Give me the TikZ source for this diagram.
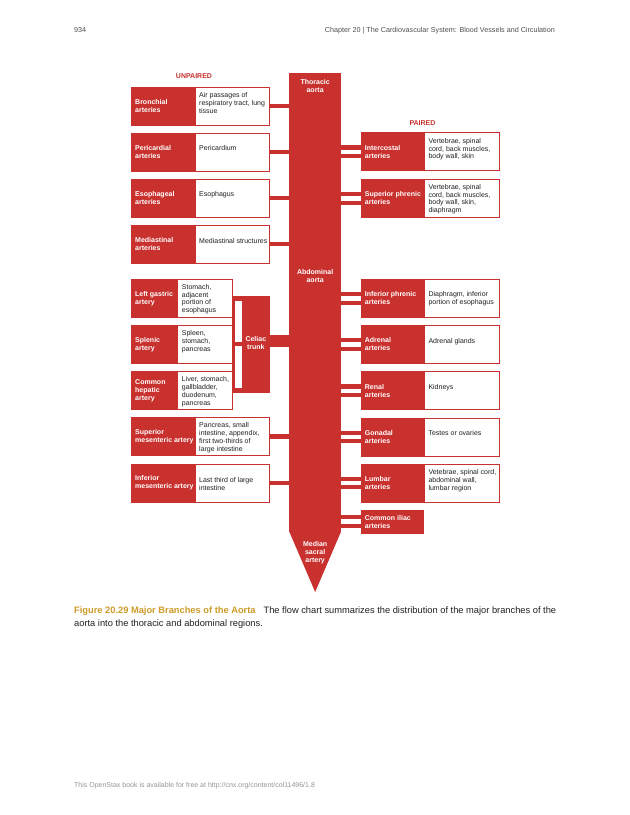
\documentclass[tikz,border=0pt]{standalone}
\usepackage{fontspec}
\setmainfont{Liberation Sans}
\definecolor{ared}{RGB}{200,49,46}
\definecolor{txt}{RGB}{35,31,32}
\definecolor{gold}{RGB}{205,155,40}
\definecolor{hdr}{RGB}{80,80,80}
\definecolor{ftr}{RGB}{150,150,150}
\begin{document}
\begin{tikzpicture}[x=1pt,y=-1pt,
  redpart/.style={fill=ared, draw=ared, line width=0.8pt, inner sep=0pt, outer sep=0pt, anchor=north west, minimum height=38pt},
  descpart/.style={fill=white, draw=ared, line width=0.8pt, inner sep=0pt, outer sep=0pt, anchor=north west, minimum height=38pt},
  lbl/.style={font=\fontsize{7}{7.8}\selectfont\bfseries, text=white, align=left, inner sep=0pt, anchor=west},
  dsc/.style={font=\fontsize{7}{7.8}\selectfont, text=txt, align=left, inner sep=0pt, anchor=north west},
  ctr/.style={font=\fontsize{7}{7.8}\selectfont\bfseries, text=white, align=center, inner sep=0pt, anchor=north},
  single/.style={draw=ared, line width=4.8pt},
  pair/.style={draw=ared, line width=4.2pt, double=white, double distance=4.4pt},
  trunkfill/.style={fill=ared, inner sep=0pt, outer sep=0pt, anchor=north west},
]
\useasboundingbox (0,0) rectangle (630,815);
\fill[white] (0,0) rectangle (630,815);

% header and footer
\node[anchor=base west, inner sep=0pt, font=\fontsize{7.2}{8}\selectfont, text=hdr] (pagenum) at (74,32.3) {934};
\node[anchor=base east, inner sep=0pt, font=\fontsize{7.2}{8}\selectfont, text=hdr] (chapter) at (555,32.3) {Chapter 20 | The Cardiovascular System: Blood Vessels and Circulation};
\node[anchor=base west, inner sep=0pt, font=\fontsize{7}{8}\selectfont, text=ftr] (footer) at (74,787.8) {This OpenStax book is available for free at http://cnx.org/content/col11496/1.8};

% aorta
\node[trunkfill, minimum width=51.7pt, minimum height=458.7pt] (aorta) at (289.3,73) {};
\coordinate (tip) at (315.15,592);
\fill[ared] (aorta.south west) -- (aorta.south east) -- (tip) -- cycle;
\node[ctr] (thor) at (315.15,79.6) {Thoracic\\aorta};
\node[ctr] (abdo) at (315.15,269) {Abdominal\\aorta};
\node[ctr] (sacr) at (315.15,541.3) {Median\\sacral\\artery};

% headings
\node[inner sep=0pt, font=\fontsize{7}{8}\selectfont\bfseries, text=ared] (unp) at (194,76) {UNPAIRED};
\node[inner sep=0pt, font=\fontsize{7}{8}\selectfont\bfseries, text=ared] (par) at (422.5,123) {PAIRED};

% ---------- left, unpaired ----------
\node[redpart, minimum width=63.3pt] (bronR) at (131.7,87) {};
\node[descpart, minimum width=74.3pt] (bronD) at (195,87) {};
\node[lbl] (bronL) at (135,106) {Bronchial\\arteries};
\node[dsc] (bronT) at (199,92.3) {Air passages of\\respiratory tract, lung\\tissue};

\node[redpart, minimum width=63.3pt] (periR) at (131.7,133) {};
\node[descpart, minimum width=74.3pt] (periD) at (195,133) {};
\node[lbl] (periL) at (135,152) {Pericardial\\arteries};
\node[dsc] (periT) at (199,145.6) {Pericardium};

\node[redpart, minimum width=63.3pt] (esopR) at (131.7,179) {};
\node[descpart, minimum width=74.3pt] (esopD) at (195,179) {};
\node[lbl] (esopL) at (135,198) {Esophageal\\arteries};
\node[dsc] (esopT) at (199,191.6) {Esophagus};

\node[redpart, minimum width=63.3pt] (mediR) at (131.7,225) {};
\node[descpart, minimum width=74.3pt] (mediD) at (195,225) {};
\node[lbl] (mediL) at (135,244) {Mediastinal\\arteries};
\node[dsc] (mediT) at (199,238) {Mediastinal structures};

\node[redpart, minimum width=63.3pt] (supmR) at (131.7,417.5) {};
\node[descpart, minimum width=74.3pt] (supmD) at (195,417.5) {};
\node[lbl] (supmL) at (135,436.5) {Superior\\mesenteric artery};
\node[dsc] (supmT) at (199,422.6) {Pancreas, small\\intestine, appendix,\\first two-thirds of\\large intestine};

\node[redpart, minimum width=63.3pt] (infmR) at (131.7,464) {};
\node[descpart, minimum width=74.3pt] (infmD) at (195,464) {};
\node[lbl] (infmL) at (135,483) {Inferior\\mesenteric artery};
\node[dsc] (infmT) at (199,477) {Last third of large\\intestine};

% ---------- celiac group ----------
\node[redpart, minimum width=46pt] (lgR) at (131.7,279.3) {};
\node[descpart, minimum width=54.6pt] (lgD) at (177.7,279.3) {};
\node[lbl] (lgL) at (135,298.3) {Left gastric\\artery};
\node[dsc] (lgT) at (181.7,284) {Stomach,\\adjacent\\portion of\\esophagus};

\node[redpart, minimum width=46pt] (splR) at (131.7,325.3) {};
\node[descpart, minimum width=54.6pt] (splD) at (177.7,325.3) {};
\node[lbl] (splL) at (135,344.3) {Splenic\\artery};
\node[dsc] (splT) at (181.7,330.6) {Spleen,\\stomach,\\pancreas};

\node[redpart, minimum width=46pt] (chR) at (131.7,371.7) {};
\node[descpart, minimum width=54.6pt] (chD) at (177.7,371.7) {};
\node[lbl] (chL) at (135,390.7) {Common\\hepatic\\artery};
\node[dsc] (chT) at (181.7,376.6) {Liver, stomach,\\gallbladder,\\duodenum,\\pancreas};

\node[trunkfill, minimum width=28.3pt, minimum height=97.4pt] (celiac) at (241.7,295.5) {};
\node[ctr] (celT) at (255.85,336.6) {Celiac\\trunk};

% ---------- right, paired ----------
\node[redpart, minimum width=63pt] (interR) at (361,132.7) {};
\node[descpart, minimum width=75pt] (interD) at (424,132.7) {};
\node[lbl] (interL) at (364.7,151.7) {Intercostal\\arteries};
\node[dsc] (interT) at (428.3,138) {Vertebrae, spinal\\cord, back muscles,\\body wall, skin};

\node[redpart, minimum width=63pt] (suphR) at (361,179.3) {};
\node[descpart, minimum width=75pt] (suphD) at (424,179.3) {};
\node[lbl] (suphL) at (364.7,198.3) {Superior phrenic\\arteries};
\node[dsc] (suphT) at (428.3,184) {Vertebrae, spinal\\cord, back muscles,\\body wall, skin,\\diaphragm};

\node[redpart, minimum width=63pt] (infphR) at (361,279.3) {};
\node[descpart, minimum width=75pt] (infphD) at (424,279.3) {};
\node[lbl] (infphL) at (364.7,298.3) {Inferior phrenic\\arteries};
\node[dsc] (infphT) at (428.3,291.6) {Diaphragm, inferior\\portion of esophagus};

\node[redpart, minimum width=63pt] (adrR) at (361,325.3) {};
\node[descpart, minimum width=75pt] (adrD) at (424,325.3) {};
\node[lbl] (adrL) at (364.7,344.3) {Adrenal\\arteries};
\node[dsc] (adrT) at (428.3,338) {Adrenal glands};

\node[redpart, minimum width=63pt] (renR) at (361,371.7) {};
\node[descpart, minimum width=75pt] (renD) at (424,371.7) {};
\node[lbl] (renL) at (364.7,390.7) {Renal\\arteries};
\node[dsc] (renT) at (428.3,384.6) {Kidneys};

\node[redpart, minimum width=63pt] (gonR) at (361,418) {};
\node[descpart, minimum width=75pt] (gonD) at (424,418) {};
\node[lbl] (gonL) at (364.7,437) {Gonadal\\arteries};
\node[dsc] (gonT) at (428.3,430.6) {Testes or ovaries};

\node[redpart, minimum width=63pt] (lumR) at (361,464) {};
\node[descpart, minimum width=75pt] (lumD) at (424,464) {};
\node[lbl] (lumL) at (364.7,483) {Lumbar\\arteries};
\node[dsc] (lumT) at (428.3,469.3) {Vetebrae, spinal cord,\\abdominal wall,\\lumbar region};

\node[redpart, minimum width=62.3pt, minimum height=23.3pt] (iliR) at (361,510) {};
\node[lbl] (iliL) at (364.7,521.9) {Common iliac\\arteries};

% ---------- connectors ----------
\foreach \b in {bronD,periD,esopD,mediD,supmD,infmD}
  \draw[single] (\b.east) -- (\b.east -| aorta.west);
\foreach \b in {interR,suphR,infphR,adrR,renR,gonR,lumR,iliR}
  \draw[pair] (\b.west -| aorta.east) -- (\b.west);
\draw[ared, line width=4.8pt] (lgD.east) -- (lgD.east -| celiac.west);
\draw[ared, line width=4pt] (splD.east) -- (splD.east -| celiac.west);
\draw[ared, line width=4.8pt] (chD.east) -- (chD.east -| celiac.west);
\draw[ared, line width=2.2pt] ([xshift=1.1pt]lgD.east) -- ([xshift=1.1pt]chD.east);
\coordinate (celc) at (270,341);
\draw[ared, line width=12pt] (celc -| celiac.east) -- (celc -| aorta.west);

% caption
\node[anchor=north west, inner sep=0pt, align=left, font=\fontsize{9.3}{13}\selectfont, text=txt] (caption) at (74,606.7)
  {{\color{gold}\bfseries Figure 20.29 Major Branches of the Aorta}\hspace{8pt}The flow chart summarizes the distribution of the major branches of the\\aorta into the thoracic and abdominal regions.};
\end{tikzpicture}
\end{document}
